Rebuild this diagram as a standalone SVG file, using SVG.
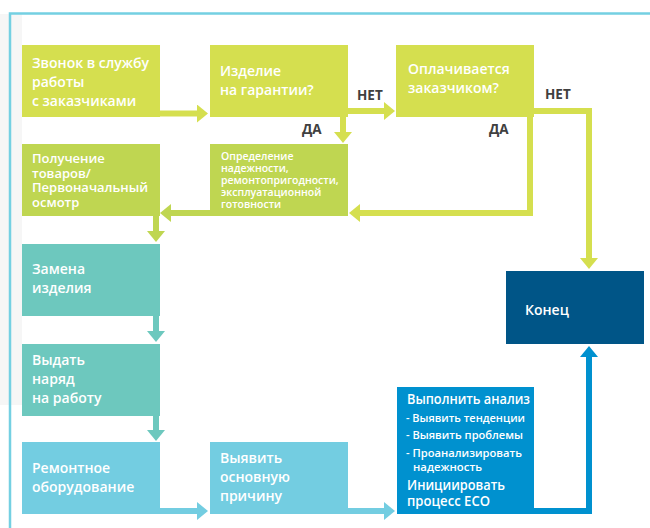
<svg xmlns="http://www.w3.org/2000/svg" width="650" height="528" viewBox="0 0 650 528">
  <style>
    .t { font-family: "Open Sans", "Noto Sans", "DejaVu Sans", sans-serif; font-weight: 600; fill: #ffffff; }
    .l { font-family: "Open Sans", "Noto Sans", "DejaVu Sans", sans-serif; font-weight: 700; fill: #404040; font-size: 13.5px; }
    .c { fill: none; stroke-width: 6; stroke-linejoin: miter; stroke-linecap: butt; }
    .yg { fill: #d5df4f; } .g { fill: #bfd651; } .tl { fill: #6dc8be; } .lb { fill: #73cde1; } .bl { fill: #0091cf; } .nv { fill: #005587; }
  </style>
  <defs>
    <marker id="hYg" markerUnits="userSpaceOnUse" markerWidth="11" markerHeight="18" refX="0" refY="9" orient="auto"><path d="M0,0 L11,9 L0,18 Z" fill="#d5df4f"/></marker>
    <marker id="hG" markerUnits="userSpaceOnUse" markerWidth="11" markerHeight="18" refX="0" refY="9" orient="auto"><path d="M0,0 L11,9 L0,18 Z" fill="#bfd651"/></marker>
    <marker id="hTl" markerUnits="userSpaceOnUse" markerWidth="11" markerHeight="18" refX="0" refY="9" orient="auto"><path d="M0,0 L11,9 L0,18 Z" fill="#6dc8be"/></marker>
    <marker id="hLb" markerUnits="userSpaceOnUse" markerWidth="11" markerHeight="18" refX="0" refY="9" orient="auto"><path d="M0,0 L11,9 L0,18 Z" fill="#73cde1"/></marker>
    <marker id="hBl" markerUnits="userSpaceOnUse" markerWidth="11" markerHeight="18" refX="0" refY="9" orient="auto"><path d="M0,0 L11,9 L0,18 Z" fill="#0091cf"/></marker>
  </defs>

  <!-- page background and frame -->
  <rect x="0" y="0" width="650" height="528" fill="#ffffff"/>
  <rect x="0" y="14" width="22" height="391" fill="#f6f6f6"/>
  <path d="M10,528 V13.5 H650" fill="none" stroke="#74d0e2" stroke-width="2.5"/>

  <!-- connectors -->
  <g id="connectors">
    <path class="c" stroke="#d5df4f" d="M155,113.5 H197" marker-end="url(#hYg)"/>
    <path class="c" stroke="#d5df4f" d="M346,111 H384" marker-end="url(#hYg)"/>
    <path class="c" stroke="#d5df4f" d="M343,108 V132" marker-end="url(#hYg)"/>
    <path class="c" stroke="#d5df4f" d="M530,117 V213 H360" marker-end="url(#hYg)"/>
    <path class="c" stroke="#d5df4f" d="M533,111 H589 V258" marker-end="url(#hYg)"/>
    <path class="c" stroke="#bfd651" d="M210,213 H171" marker-end="url(#hG)"/>
    <path class="c" stroke="#bfd651" d="M156,216 V231" marker-end="url(#hG)"/>
    <path class="c" stroke="#6dc8be" d="M156,316 V331" marker-end="url(#hTl)"/>
    <path class="c" stroke="#6dc8be" d="M156,416 V430" marker-end="url(#hTl)"/>
    <path class="c" stroke="#73cde1" d="M155,511 H197" marker-end="url(#hLb)"/>
    <path class="c" stroke="#73cde1" d="M346,511 H384" marker-end="url(#hLb)"/>
    <path class="c" stroke="#0091cf" d="M534,511 H589 V357" marker-end="url(#hBl)"/>
    <text class="l" x="357" y="100">НЕТ</text>
    <text class="l" x="545" y="99">НЕТ</text>
    <text class="l" x="302" y="134">ДА</text>
    <text class="l" x="489" y="134">ДА</text>
  </g>

  <g id="n1">
    <rect class="yg" x="22" y="45" width="138" height="72"/>
    <text class="t" font-size="14"><tspan x="32" y="68">Звонок в службу</tspan><tspan x="32" y="87">работы</tspan><tspan x="32" y="106">с заказчиками</tspan></text>
  </g>
  <g id="n2">
    <rect class="yg" x="210" y="45" width="138" height="72"/>
    <text class="t" font-size="14"><tspan x="220" y="76">Изделие</tspan><tspan x="220" y="95">на гарантии?</tspan></text>
  </g>
  <g id="n3">
    <rect class="yg" x="396" y="45" width="138" height="72"/>
    <text class="t" font-size="14"><tspan x="408" y="74">Оплачивается</tspan><tspan x="408" y="93">заказчиком?</tspan></text>
  </g>
  <g id="n4">
    <rect class="g" x="22" y="144" width="138" height="72"/>
    <text class="t" font-size="13"><tspan x="32" y="163">Получение</tspan><tspan x="32" y="177.5">товаров/</tspan><tspan x="32" y="192">Первоначальный</tspan><tspan x="32" y="206.5">осмотр</tspan></text>
  </g>
  <g id="n5">
    <rect class="g" x="210" y="144" width="138" height="72"/>
    <text class="t" font-size="10.5"><tspan x="221" y="159.5">Определение</tspan><tspan x="221" y="171.5">надежности,</tspan><tspan x="221" y="183.5">ремонтопригодности,</tspan><tspan x="221" y="195.5">эксплуатационной</tspan><tspan x="221" y="207.5">готовности</tspan></text>
  </g>
  <g id="n6">
    <rect class="tl" x="22" y="244" width="138" height="72"/>
    <text class="t" font-size="14"><tspan x="32" y="274">Замена</tspan><tspan x="32" y="293">изделия</tspan></text>
  </g>
  <g id="n7">
    <rect class="tl" x="22" y="344" width="138" height="72"/>
    <text class="t" font-size="14"><tspan x="32" y="365">Выдать</tspan><tspan x="32" y="384">наряд</tspan><tspan x="32" y="403">на работу</tspan></text>
  </g>
  <g id="n8">
    <rect class="lb" x="22" y="442" width="138" height="72"/>
    <text class="t" font-size="14"><tspan x="32" y="473">Ремонтное</tspan><tspan x="32" y="492">оборудование</tspan></text>
  </g>
  <g id="n9">
    <rect class="lb" x="210" y="442" width="138" height="72"/>
    <text class="t" font-size="14"><tspan x="220" y="463">Выявить</tspan><tspan x="220" y="482">основную</tspan><tspan x="220" y="501">причину</tspan></text>
  </g>
  <g id="n10">
    <rect class="bl" x="397" y="387" width="137" height="127"/>
    <text class="t" font-size="14.5" x="407" y="404" textLength="123" lengthAdjust="spacingAndGlyphs">Выполнить анализ</text>
    <text class="t" font-size="11.5" x="406" y="422" textLength="119" lengthAdjust="spacingAndGlyphs">- Выявить тенденции</text>
    <text class="t" font-size="11.5" x="406" y="439" textLength="117" lengthAdjust="spacingAndGlyphs">- Выявить проблемы</text>
    <text class="t" font-size="11.5" x="406" y="457" textLength="116" lengthAdjust="spacingAndGlyphs">- Проанализировать</text>
    <text class="t" font-size="11.5" x="413" y="471" textLength="69" lengthAdjust="spacingAndGlyphs">надежность</text>
    <text class="t" font-size="14.5" x="407" y="490" textLength="98" lengthAdjust="spacingAndGlyphs">Инициировать</text>
    <text class="t" font-size="14.5" x="407" y="505.5" textLength="83" lengthAdjust="spacingAndGlyphs">процесс ECO</text>
  </g>
  <g id="n11">
    <rect class="nv" x="506" y="271" width="138" height="73"/>
    <text class="t" font-size="14" x="525" y="315">Конец</text>
  </g>
</svg>
